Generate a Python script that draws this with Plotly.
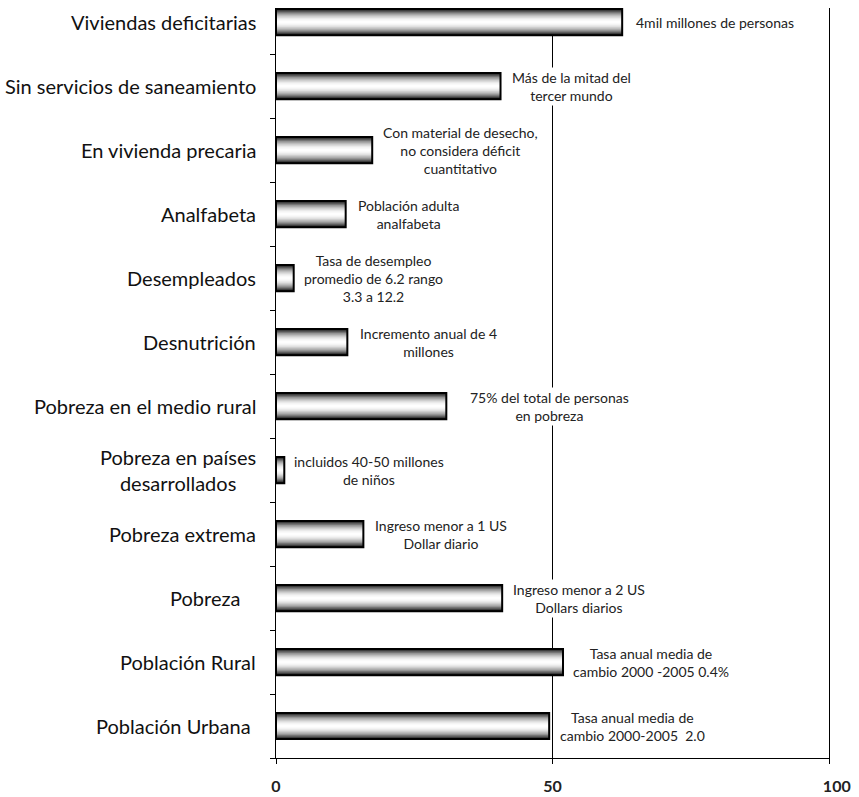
import plotly.graph_objects as go

# ---------------- data (top to bottom as in the chart) ----------------
categories = [
    "Viviendas deficitarias",
    "Sin servicios de saneamiento",
    "En vivienda precaria",
    "Analfabeta",
    "Desempleados",
    "Desnutrición",
    "Pobreza en el medio rural",
    "Pobreza en países<br>desarrollados",
    "Pobreza extrema",
    "Pobreza\u00a0\u00a0\u00a0",
    "Población Rural",
    "Población Urbana\u00a0",
]
values = [62.6, 40.6, 17.4, 12.6, 3.2, 12.9, 30.8, 1.5, 15.8, 40.9, 51.9, 49.4]
notes = [
    "4mil millones de personas",
    "Más de la mitad del<br>tercer mundo",
    "Con material de desecho,<br>no considera déficit<br>cuantitativo",
    "Población adulta<br>analfabeta",
    "Tasa de desempleo<br>promedio de 6.2 rango<br>3.3 a 12.2",
    "Incremento anual de 4<br>millones",
    "75% del total de personas<br>en pobreza",
    "incluidos 40-50 millones<br>de niños",
    "Ingreso menor a 1 US<br>Dollar diario",
    "Ingreso menor a 2 US<br>Dollars diarios",
    "Tasa anual media de<br>cambio 2000 -2005 0.4%",
    "Tasa anual media de<br>cambio 2000-2005  2.0",
]
x_ticks = [0, 50, 100]
x_ticktext = ["0", "50", "\u00a0\u00a0\u00a0\u00a0100"]

# ---------------- layout settings ----------------
note_gap_px = [12, 9, 9, 10, 8, 11, 22, 8, 10, 9, 8, 9]
BAR_W = 0.41
N_LAYERS = 16
FONT = "Lato"

order_bottom_up = categories[::-1]

fig = go.Figure()

# gradient bars built from layered overlay bars (dark edges, light centre)
for k in range(N_LAYERS):
    d = 1 - k / N_LAYERS
    shade = int(round(20 + (255 - 20) * (1 - d ** 2.0)))
    col = f"rgb({shade},{shade},{shade})"
    fig.add_trace(go.Bar(
        x=values, y=categories, orientation="h",
        width=BAR_W * d,
        marker=dict(color=col, line=dict(width=0)),
        hoverinfo="skip", showlegend=False,
    ))
# outline on top
fig.add_trace(go.Bar(
    x=values, y=categories, orientation="h", width=BAR_W,
    marker=dict(color="rgba(0,0,0,0)", line=dict(color="black", width=2)),
    hoverinfo="skip", showlegend=False,
))

annotations = []
for cat, val, note, gap in zip(categories, values, notes, note_gap_px):
    annotations.append(dict(
        x=val, y=cat, xref="x", yref="y", text=note, showarrow=False,
        xanchor="left", yanchor="middle", align="center", xshift=gap,
        font=dict(family=FONT, size=14, color="#222"),
        bgcolor="white", borderpad=1,
    ))
    annotations.append(dict(
        x=0, y=cat, xref="paper", yref="y", text=cat, showarrow=False,
        xanchor="right", yanchor="middle", align="center", xshift=-18,
        font=dict(family=FONT, size=20, color="#111"),
    ))

fig.update_layout(
    width=859, height=797,
    margin=dict(l=276, r=30, t=8, b=39, autoexpand=False),
    paper_bgcolor="white", plot_bgcolor="white",
    barmode="overlay",
    annotations=annotations,
    xaxis=dict(
        range=[0, 100], tickvals=x_ticks, ticktext=x_ticktext,
        showgrid=True, gridcolor="black", gridwidth=1,
        showline=True, linecolor="black", linewidth=1,
        ticks="outside", ticklen=5, tickcolor="black",
        ticklabelstandoff=9, automargin=False,
        tickfont=dict(family=FONT, size=16, color="#222", weight="bold"),
        zeroline=False, fixedrange=True,
    ),
    yaxis=dict(
        categoryorder="array", categoryarray=order_bottom_up,
        range=[-0.5, 11.22], automargin=False,
        showticklabels=False, showgrid=False,
        showline=True, linecolor="black", linewidth=1, mirror=True,
        ticks="outside", ticklen=5, tickcolor="black", tickson="boundaries",
        zeroline=False, fixedrange=True,
    ),
)

fig.write_html("out.html", config={"displayModeBar": False},
               post_script="document.body.style.margin='0';")
